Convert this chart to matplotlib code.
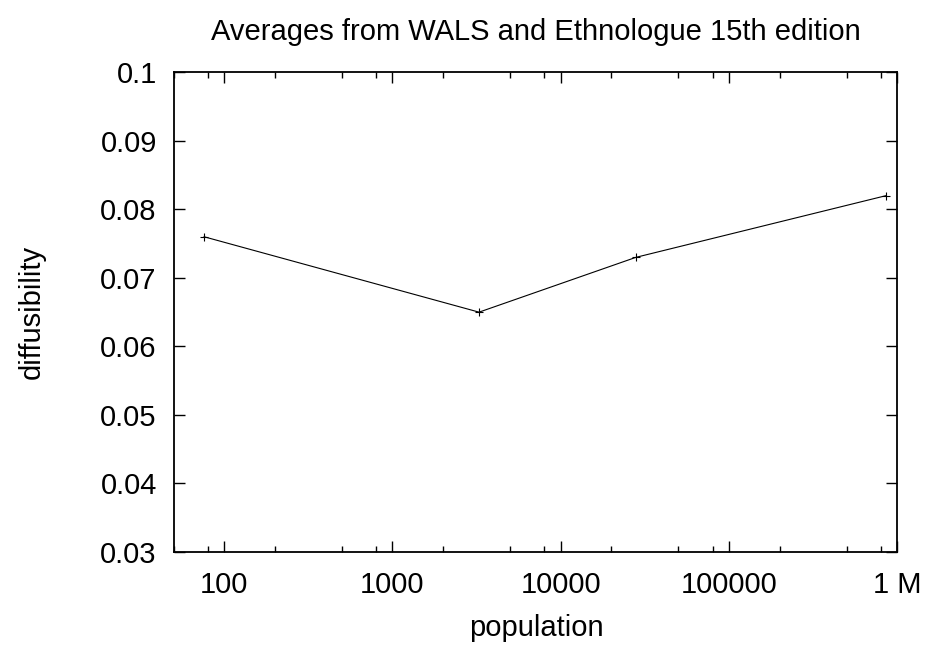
import matplotlib
matplotlib.use("Agg")
import matplotlib.pyplot as plt
from matplotlib.ticker import FixedLocator, NullFormatter

population = [76, 3270, 28000, 857000]
diffusibility = [0.076, 0.065, 0.073, 0.082]
xtick_values = [100, 1000, 10000, 100000, 1000000]
xtick_labels = ["100", "1000", "10000", "100000", "1 M"]
ytick_values = [0.03, 0.04, 0.05, 0.06, 0.07, 0.08, 0.09, 0.1]
ytick_labels = ["0.03", "0.04", "0.05", "0.06", "0.07", "0.08", "0.09", "0.1"]

plt.rcParams['font.family'] = ['Liberation Sans', 'DejaVu Sans']

W, H = 931, 648
fig = plt.figure(figsize=(W / 100, H / 100), dpi=100)
ax = fig.add_axes([173.5 / W, 1 - 552 / H, (897.3 - 173.5) / W, (552 - 72.3) / H])

ax.plot(population, diffusibility, color='black', linewidth=0.8,
        marker='+', markersize=6, markeredgewidth=0.8)

ax.set_xscale('log')
ax.set_xlim(50, 1e6)
ax.set_ylim(0.03, 0.1)

minor = []
for k in range(1, 7):
    for m in (2, 5, 8):
        v = m * 10 ** k
        if 50 <= v <= 1e6:
            minor.append(v)
ax.xaxis.set_minor_locator(FixedLocator(minor))
ax.xaxis.set_minor_formatter(NullFormatter())
ax.set_xticks(xtick_values)
ax.set_xticklabels(xtick_labels)
ax.set_yticks(ytick_values)
ax.set_yticklabels(ytick_labels)

ax.tick_params(axis='both', which='major', direction='in', length=8, width=1,
               labelsize=21, top=True, right=True, pad=12)
ax.tick_params(axis='x', which='minor', direction='in', length=4, width=1,
               top=True, bottom=True)
ax.tick_params(axis='x', which='major', pad=14)
for s in ax.spines.values():
    s.set_linewidth(1.3)

fig.text(536 / W, 1 - 32 / H, "Averages from WALS and Ethnologue 15th edition",
         ha='center', va='center', fontsize=21)
fig.text(536 / W, 1 - 628 / H, "population", ha='center', va='center', fontsize=21)
fig.text(32 / W, 1 - 312 / H, "diffusibility", ha='center', va='center',
         rotation=90, fontsize=21)

fig.savefig("out.png", dpi=100)
